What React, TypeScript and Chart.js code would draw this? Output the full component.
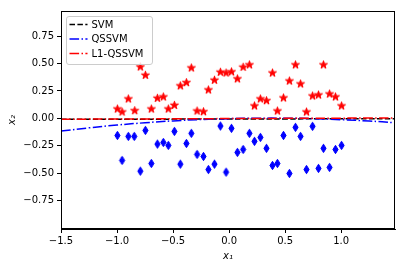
import React, { useEffect, useRef } from "react";
import { Chart, registerables } from "chart.js";

Chart.register(...registerables);

// ---- data ----
const starX = [-0.792, -0.747, -0.899, -0.997, -0.955, -0.842, -0.694, -0.64, -0.587, -0.542, -0.488, -0.435, -0.381, -0.337, -0.286, -0.229, -0.185, -0.131, -0.078, -0.027, 0.021, 0.074, 0.125, 0.181, 0.226, 0.279, 0.333, 0.387, 0.431, 0.485, 0.538, 0.592, 0.637, 0.69, 0.744, 0.797, 0.842, 0.896, 0.949, 1.003];
const starY = [0.469, 0.393, 0.177, 0.085, 0.058, 0.07, 0.085, 0.183, 0.195, 0.085, 0.119, 0.296, 0.326, 0.46, 0.067, 0.06, 0.259, 0.348, 0.421, 0.414, 0.424, 0.36, 0.467, 0.488, 0.113, 0.177, 0.161, 0.414, 0.067, 0.186, 0.341, 0.488, 0.314, 0.058, 0.204, 0.213, 0.488, 0.222, 0.195, 0.113];

const diamondX = [-0.997, -0.955, -0.899, -0.846, -0.792, -0.747, -0.694, -0.64, -0.587, -0.542, -0.488, -0.435, -0.381, -0.337, -0.286, -0.229, -0.185, -0.131, -0.078, -0.027, 0.021, 0.074, 0.125, 0.181, 0.226, 0.279, 0.333, 0.387, 0.431, 0.485, 0.538, 0.592, 0.637, 0.69, 0.744, 0.797, 0.842, 0.896, 0.949, 1.003];
const diamondY = [-0.156, -0.384, -0.165, -0.165, -0.482, -0.11, -0.412, -0.235, -0.22, -0.247, -0.119, -0.418, -0.229, -0.137, -0.329, -0.348, -0.467, -0.418, -0.07, -0.491, -0.091, -0.311, -0.284, -0.137, -0.21, -0.174, -0.274, -0.43, -0.412, -0.156, -0.503, -0.082, -0.165, -0.467, -0.073, -0.457, -0.274, -0.448, -0.284, -0.247];

const lineX = [-1.5, -1.25, -1.0, -0.75, -0.5, -0.25, 0.0, 0.25, 0.5, 0.75, 1.0, 1.25, 1.48];
const svmY = [-0.009, -0.0085, -0.008, -0.0075, -0.007, -0.0065, -0.006, -0.0055, -0.005, -0.0045, -0.004, -0.0035, -0.003];
const qssvmY = [-0.116, -0.0865, -0.061, -0.04, -0.023, -0.011, -0.003, 0.0015, 0.0014, -0.003, -0.012, -0.0245, -0.04];
const l1Y = [-0.008, -0.007, -0.006, -0.005, -0.004, -0.003, -0.002, -0.001, 0.0, 0.001, 0.002, 0.0025, 0.003];

const seriesNames = ["SVM", "QSSVM", "L1-QSSVM"];
const seriesColors = ["#000000", "#0000ff", "#ff0000"];
const xTicks = [-1.5, -1.0, -0.5, 0.0, 0.5, 1.0];
const yTicks = [-0.75, -0.5, -0.25, 0.0, 0.25, 0.5, 0.75];

const FONT = "'DejaVu Sans', sans-serif";
const dashDashed = [5.5, 2.4];
const dashDashDot = [9.6, 2.4, 1.5, 2.4];
const dashes = [dashDashed, dashDashDot, dashDashDot];

function makeStar(color: string): HTMLCanvasElement {
  const c = document.createElement("canvas");
  c.width = 11;
  c.height = 11;
  const ctx = c.getContext("2d")!;
  const cx = 5.5, cy = 5.5, R = 4.2, r = R * 0.382;
  ctx.beginPath();
  for (let i = 0; i < 10; i++) {
    const a = -Math.PI / 2 + (i * Math.PI) / 5;
    const rad = i % 2 === 0 ? R : r;
    const px = cx + rad * Math.cos(a);
    const py = cy + rad * Math.sin(a);
    if (i === 0) ctx.moveTo(px, py);
    else ctx.lineTo(px, py);
  }
  ctx.closePath();
  ctx.fillStyle = color;
  ctx.fill();
  ctx.strokeStyle = color;
  ctx.lineWidth = 1;
  ctx.lineJoin = "miter";
  ctx.stroke();
  return c;
}

function makeDiamond(color: string): HTMLCanvasElement {
  const c = document.createElement("canvas");
  c.width = 9;
  c.height = 11;
  const ctx = c.getContext("2d")!;
  const cx = 4.5, cy = 5.5, hh = 4.2, hw = 2.6;
  ctx.beginPath();
  ctx.moveTo(cx, cy - hh);
  ctx.lineTo(cx + hw, cy);
  ctx.lineTo(cx, cy + hh);
  ctx.lineTo(cx - hw, cy);
  ctx.closePath();
  ctx.fillStyle = color;
  ctx.fill();
  ctx.strokeStyle = color;
  ctx.lineWidth = 1;
  ctx.stroke();
  return c;
}

const fmt = (v: number, d: number) => Number(v).toFixed(d).replace("-", "\u2212");

const framePlugin = {
  id: "frame",
  afterDatasetsDraw(chart: any) {
    const { ctx, chartArea: a } = chart;
    ctx.save();
    ctx.strokeStyle = "#000";
    ctx.lineWidth = 1;
    ctx.strokeRect(a.left + 0.5, a.top + 0.5, a.right - a.left - 1, a.bottom - a.top - 1);
    ctx.restore();
  },
};

const legendPlugin = {
  id: "mplLegend",
  afterDraw(chart: any) {
    const { ctx, chartArea: a } = chart;
    const x0 = a.left + 5.5, y0 = a.top + 5.5, w = 86, h = 48;
    ctx.save();
    ctx.beginPath();
    (ctx as any).roundRect(x0, y0, w, h, 2.5);
    ctx.fillStyle = "rgba(255,255,255,0.8)";
    ctx.fill();
    ctx.strokeStyle = "#cccccc";
    ctx.lineWidth = 1;
    ctx.stroke();
    ctx.font = `10px ${FONT}`;
    ctx.textBaseline = "middle";
    seriesNames.forEach((name, i) => {
      const yy = y0 + 8 + i * 14.5;
      ctx.beginPath();
      ctx.setLineDash(dashes[i]);
      ctx.strokeStyle = seriesColors[i];
      ctx.lineWidth = 1.5;
      ctx.moveTo(x0 + 3, yy);
      ctx.lineTo(x0 + 21, yy);
      ctx.stroke();
      ctx.setLineDash([]);
      ctx.fillStyle = "#000";
      ctx.fillText(name, x0 + 25, yy + 0.5);
    });
    ctx.restore();
  },
};

export default function App() {
  const ref = useRef<HTMLCanvasElement>(null);
  useEffect(() => {
    const star = makeStar("#ff0000");
    const diamond = makeDiamond("#0000ff");
    const lineSets = [svmY, qssvmY, l1Y].map((ys, i) => ({
      label: seriesNames[i],
      data: lineX.map((x, j) => ({ x, y: ys[j] })),
      showLine: true,
      borderColor: seriesColors[i],
      borderWidth: 1.5,
      borderDash: dashes[i],
      pointRadius: 0,
      fill: false,
      tension: 0.4,
      order: 3 - i,
    }));
    const chart = new Chart(ref.current!, {
      type: "scatter",
      data: {
        datasets: [
          {
            label: "pos",
            data: starX.map((x, i) => ({ x, y: starY[i] })),
            pointStyle: star as any,
            pointRadius: 5,
            order: 10,
          },
          {
            label: "neg",
            data: diamondX.map((x, i) => ({ x, y: diamondY[i] })),
            pointStyle: diamond as any,
            pointRadius: 5,
            order: 10,
          },
          ...lineSets,
        ] as any,
      },
      options: {
        responsive: false,
        animation: false,
        devicePixelRatio: 1,
        layout: { padding: { left: 0, top: 11, right: 11, bottom: 0 } },
        plugins: { legend: { display: false }, tooltip: { enabled: false } },
        scales: {
          x: {
            type: "linear",
            min: -1.5,
            max: 1.48,
            afterBuildTicks: (s: any) => {
              s.ticks = xTicks.map((v) => ({ value: v }));
            },
            afterFit: (s: any) => {
              s.height = 39;
            },
            ticks: {
              callback: (v: any) => fmt(v, 1),
              font: { family: FONT, size: 10 },
              color: "#000",
              padding: 2,
              maxRotation: 0,
              autoSkip: false,
            },
            grid: { drawOnChartArea: false, drawTicks: true, tickLength: 4, color: "#000" },
            border: { display: true, color: "#000" },
            title: {
              display: true,
              text: "x\u2081",
              font: { family: FONT, size: 10, style: "italic" },
              color: "#000",
              padding: { top: 0, bottom: 6 },
            },
          },
          y: {
            type: "linear",
            min: -1.01,
            max: 0.98,
            afterBuildTicks: (s: any) => {
              s.ticks = yTicks.map((v) => ({ value: v }));
            },
            afterFit: (s: any) => {
              s.width = 61;
            },
            ticks: {
              callback: (v: any) => fmt(v, 2),
              font: { family: FONT, size: 10 },
              color: "#000",
              padding: 3,
              autoSkip: false,
            },
            grid: { drawOnChartArea: false, drawTicks: true, tickLength: 4, color: "#000" },
            border: { display: true, color: "#000" },
            title: {
              display: true,
              text: "x\u2082",
              font: { family: FONT, size: 10, style: "italic" },
              color: "#000",
              padding: { top: 6, bottom: 0 },
            },
          },
        },
      } as any,
      plugins: [framePlugin, legendPlugin],
    });
    return () => chart.destroy();
  }, []);
  return (
    <div style={{ position: "fixed", left: 0, top: 0, width: 406, height: 268, background: "#fff" }}>
      <canvas ref={ref} width={406} height={268} style={{ display: "block", width: 406, height: 268 }} />
    </div>
  );
}
